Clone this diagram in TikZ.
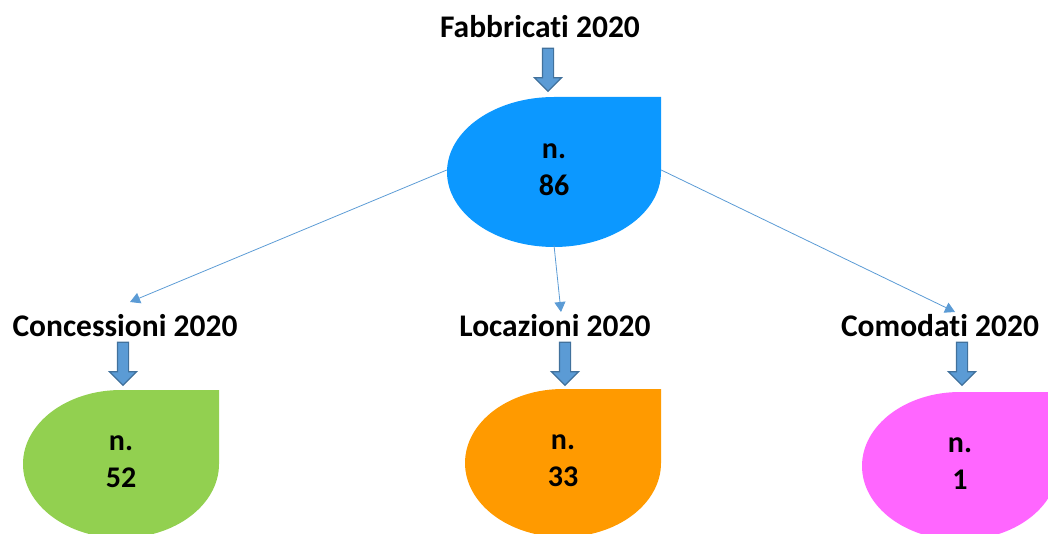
\documentclass[tikz,border=0pt]{standalone}
\usepackage{fontspec}
\setmainfont{Carlito}[RawFeature={-liga;-clig;-calt;-dlig}]
\usetikzlibrary{arrows.meta,positioning,shapes.geometric,shapes.arrows}
\definecolor{drpblue}{HTML}{0C98FF}
\definecolor{drpgreen}{HTML}{92D050}
\definecolor{drporange}{HTML}{FF9A00}
\definecolor{drppink}{HTML}{FF66FF}
\definecolor{lnblue}{HTML}{5B9BD5}
\definecolor{lnedge}{HTML}{41719C}
\tikzset{
  title/.style={font=\bfseries\fontsize{31.5}{36}\selectfont,inner sep=2pt},
  drop/.style={ellipse,inner sep=0pt,align=center,font=\bfseries\fontsize{30}{37}\selectfont},
  barrow/.style={single arrow,rotate=-90,draw=lnedge,fill=lnblue,line width=1.2pt,inner xsep=0pt,inner ysep=5pt,minimum height=43pt,single arrow head extend=8pt,single arrow tip angle=90},
  ar/.style={-{Triangle[length=10pt,width=11pt]},draw=lnblue,line width=0.8pt},
}
% teardrop: ellipse with a square top-right corner
\newcommand{\dropfill}[5]{\fill[#1] (#2,#3+#5) arc[start angle=90,end angle=360,x radius=#4,y radius=#5] -- ++(0,#5) -- cycle;}

\begin{document}
\begin{tikzpicture}[x=1pt,y=1pt]
  \useasboundingbox (0,0) rectangle (1048,533);
  \dropfill{drpblue}{554}{361}{107}{75}
  \node[drop,minimum width=214pt,minimum height=150pt](fab) at (554,363){n.\\86};
  \node[title](lfab) at (540,506){Fabbricati 2020};
  \node[barrow](bfab) at (548,466){};
  \foreach \n/\x/\y/\lx/\c/\t/\v in {conc/121/69/125/drpgreen/Concessioni/52,loc/563/70/555/drporange/Locazioni/33,com/960/67/940/drppink/Comodati/1}{
    \dropfill{\c}{\x}{\y}{98}{74}
    \node[drop,minimum width=196pt,minimum height=148pt](\n) at (\x,\y+2){n.\\\v};
    \node[title](l\n) at (\lx,207){\t\ 2020};
    \node[barrow](b\n) at (\x+2,172){};}
  \coordinate (tconc) at (130,231);
  \coordinate (tloc) at (561,221);
  \coordinate (tcom) at (955,221);
  \draw[ar] (fab.west)--(tconc);
  \draw[ar] (fab.south)--(tloc);
  \draw[ar] (fab.east)--(tcom);
\end{tikzpicture}
\end{document}
